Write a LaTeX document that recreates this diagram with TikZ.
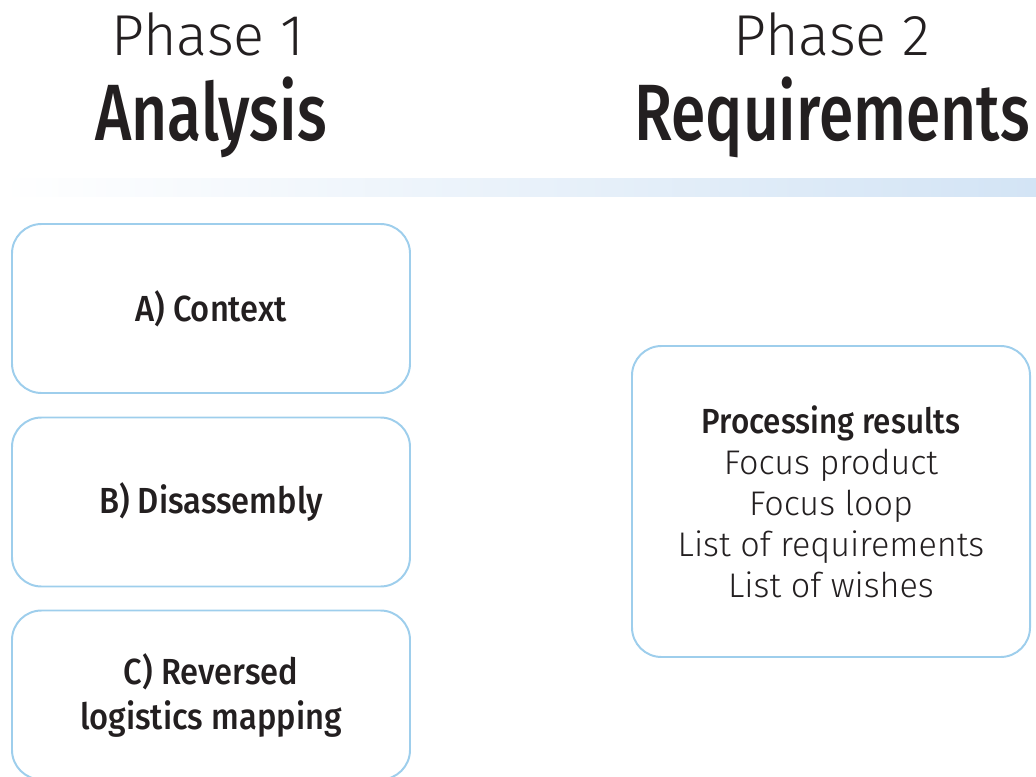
\documentclass[tikz,border=0pt]{standalone}
\usepackage{fontspec}
\usepackage[]{tikz}
\usetikzlibrary{positioning}
\newfontfamily\lightfont{Fira Sans Light}
\newfontfamily\medfont[FakeStretch=0.9]{Fira Sans Medium}
\newfontfamily\headfont[FakeStretch=0.78]{Fira Sans Medium}
\definecolor{inkgray}{RGB}{35,31,32}
\definecolor{boxblue}{RGB}{158,206,236}
\definecolor{bandblue}{RGB}{211,228,245}
\tikzset{
  phasebox/.style={draw=boxblue,line width=1.4pt,rounded corners=21pt,
    minimum width=398\pxu,minimum height=169\pxu,align=center,text=inkgray},
  boxtitle/.style={font=\medfont\fontsize{25.8}{32}\selectfont},
  phaselabel/.style={anchor=base,text=inkgray,inner sep=0pt,font=\lightfont\fontsize{41}{48}\selectfont},
  phasename/.style={anchor=base,text=inkgray,inner sep=0pt,font=\headfont\fontsize{56.8}{66}\selectfont}
}
\newlength{\pxu}\setlength{\pxu}{0.025cm}
\begin{document}
\begin{tikzpicture}[x=0.025cm,y=-0.025cm] % 1 单位 = 1 px
  \useasboundingbox (0,0) rectangle (1036,776);
  % 标题
  \node[phaselabel] (ph1) at (208,55) {Phase 1};
  \node[phasename] (ana) at (211,140) {Analysis};
  \node[phaselabel] (ph2) at (832,55) {Phase 2};
  \node[phasename] (req) at (832,140) {Requirements};
  % 渐变横条
  \shade[left color=white,right color=bandblue] (0,178) rectangle (1036,196);
  % 左列
  \node[phasebox,boxtitle] (ctx) at (211,308.5) {A) Context};
  \node[phasebox,boxtitle] (dis) at (211,502) {B) Disassembly};
  \node[phasebox,boxtitle] (rlm) at (211,695) {C) Reversed\\logistics mapping};
  % 右列
  \node[phasebox,minimum height=311\pxu,font=\lightfont\fontsize{24.3}{29.2}\selectfont] (res) at (831,501.5)
    {{\medfont\fontsize{24.8}{29.2}\selectfont Processing results}\\Focus product\\Focus loop\\List of requirements\\List of wishes};
\end{tikzpicture}
\end{document}
